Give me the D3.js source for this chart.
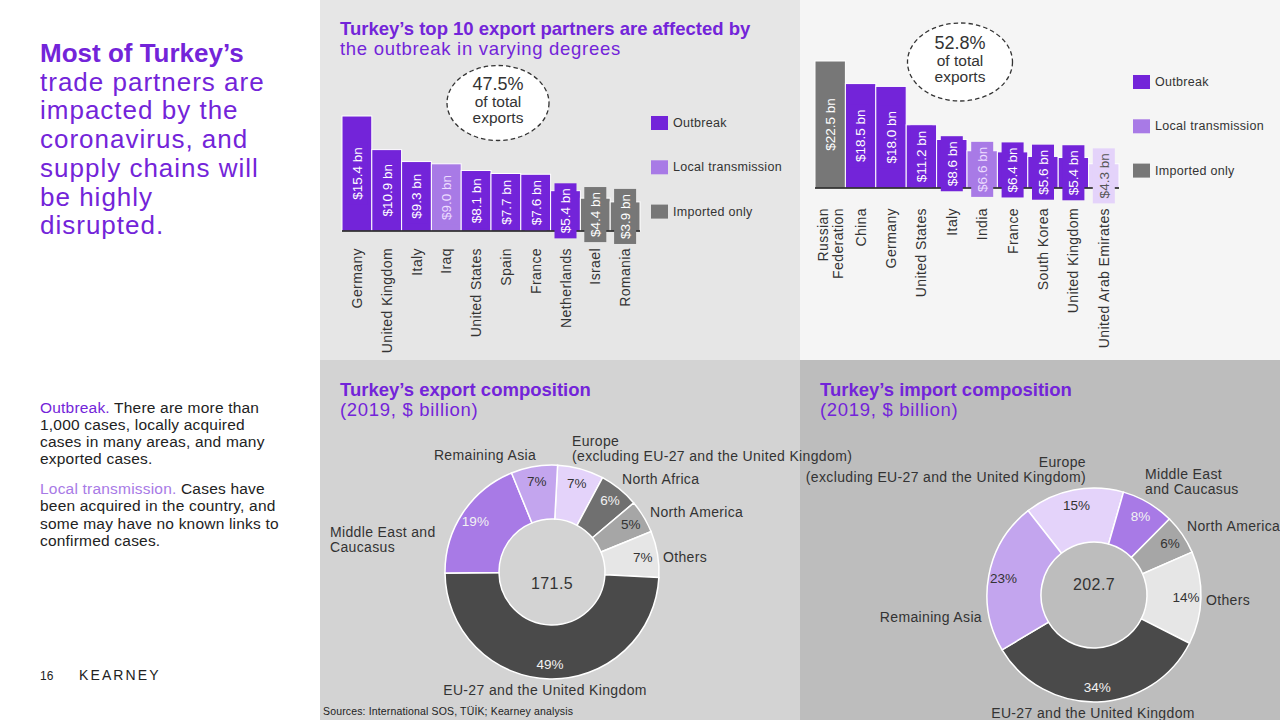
<!DOCTYPE html>
<html><head><meta charset="utf-8">
<script src="https://cdn.jsdelivr.net/npm/d3@7"></script>
<style>
html,body{margin:0;padding:0;background:#fff;}
svg{display:block;font-family:"Liberation Sans",Arial,Helvetica,sans-serif;}
</style></head>
<body><svg id="c" width="1280" height="720"></svg>
<script>
// ---------------- DATA ----------------
const legendItems = ["Outbreak", "Local transmission", "Imported only"];

const exportPartners = ["Germany","United Kingdom","Italy","Iraq","United States","Spain","France","Netherlands","Israel","Romania"];
const exportValues   = [15.4, 10.9, 9.3, 9.0, 8.1, 7.7, 7.6, 5.4, 4.4, 3.9];
const exportStatus   = ["Outbreak","Outbreak","Outbreak","Local transmission","Outbreak","Outbreak","Outbreak","Outbreak","Imported only","Imported only"];
const exportShareOfTotal = "47.5%";

const importPartners = ["Russian Federation","China","Germany","United States","Italy","India","France","South Korea","United Kingdom","United Arab Emirates"];
const importValues   = [22.5, 18.5, 18.0, 11.2, 8.6, 6.6, 6.4, 5.6, 5.4, 4.3];
const importStatus   = ["Imported only","Outbreak","Outbreak","Outbreak","Outbreak","Local transmission","Outbreak","Outbreak","Outbreak","Other"];
const importShareOfTotal = "52.8%";

const expRegions = ["Europe","North Africa","North America","Others","EU-27 and the United Kingdom","Middle East and Caucasus","Remaining Asia"];
const expShares  = [7, 6, 5, 7, 49, 19, 7];
const expTotal   = "171.5";

const impRegions = ["Europe","Middle East and Caucasus","North America","Others","EU-27 and the United Kingdom","Remaining Asia"];
const impShares  = [15, 8, 6, 14, 34, 23];
const impTotal   = "202.7";

// ---------------- STYLE ----------------
const PURPLE = "#7324d9", LAV = "#a87ae6", LAV2 = "#c3a5ee", LAV3 = "#e4d3fa";
const statusColor = d3.scaleOrdinal()
  .domain(["Outbreak","Local transmission","Imported only","Other"])
  .range([PURPLE, LAV, "#777777", LAV3]);
const statusText = d3.scaleOrdinal()
  .domain(["Outbreak","Local transmission","Imported only","Other"])
  .range(["#ffffff", "#ecdcff", "#ffffff", "#555555"]);
const regionColor = {
  "Europe": LAV3, "North Africa": "#707070", "North America": "#a6a6a6",
  "Others": "#e6e6e6", "EU-27 and the United Kingdom": "#4a4a4a",
  "Middle East and Caucasus": LAV, "Remaining Asia": LAV2
};
const TXT = "#333";

const svg = d3.select("#c");

// panels
svg.append("rect").attr("x",0).attr("y",0).attr("width",320).attr("height",720).attr("fill","#ffffff");
svg.append("rect").attr("x",320).attr("y",0).attr("width",480).attr("height",360).attr("fill","#e6e6e6");
svg.append("rect").attr("x",800).attr("y",0).attr("width",480).attr("height",360).attr("fill","#f5f5f5");
svg.append("rect").attr("x",320).attr("y",360).attr("width",480).attr("height",360).attr("fill","#d3d3d3");
svg.append("rect").attr("x",800).attr("y",360).attr("width",480).attr("height",360).attr("fill","#bdbdbd");

// ---------------- LEFT TEXT ----------------
const headline = ["trade partners are","impacted by the","coronavirus, and","supply chains will","be highly","disrupted."];
const hl = svg.append("text").attr("x",40).attr("y",62).attr("font-size",26).attr("fill",PURPLE);
hl.append("tspan").attr("x",40).attr("y",62).attr("font-weight","bold").text("Most of Turkey\u2019s");
headline.forEach((t,i)=>hl.append("tspan").attr("x",40).attr("y",62+28.7*(i+1)).attr("letter-spacing",1).text(t));

function para(y0, lead, leadColor, lines){
  const t = svg.append("text").attr("font-size",15.5).attr("letter-spacing",0.2).attr("fill","#222");
  lines.forEach((ln,i)=>{
    const ts = t.append("tspan").attr("x",40).attr("y",y0+17.3*i);
    if(i===0){ ts.append("tspan").attr("fill",leadColor).text(lead); ts.append("tspan").text(ln); }
    else ts.text(ln);
  });
}
para(412.5, "Outbreak.", PURPLE, [" There are more than","1,000 cases, locally acquired","cases in many areas, and many","exported cases."]);
para(494, "Local transmission.", LAV, [" Cases have","been acquired in the country, and","some may have no known links to","confirmed cases."]);
svg.append("text").attr("x",40).attr("y",680).attr("font-size",12).attr("fill","#222").text("16");
svg.append("text").attr("x",79).attr("y",680).attr("font-size",14).attr("letter-spacing",2.1).attr("fill","#222").text("KEARNEY");

// ---------------- BAR CHARTS ----------------
function barChart(o){
  const g = svg.append("g");
  const x = d3.scaleBand().domain(o.cats).range(o.xr).padding(0);
  const y = d3.scaleLinear().domain([0, d3.max(o.vals)]).range([o.base, o.top]);
  const data = o.cats.map((c,i)=>({c, v:o.vals[i], s:o.stat[i]}));
  g.selectAll("rect.bar").data(data).join("rect").attr("class","bar")
    .attr("x",d=>x(d.c)).attr("width",x.bandwidth())
    .attr("y",d=>y(d.v)).attr("height",d=>y(0)-y(d.v))
    .attr("fill",d=>statusColor(d.s)).attr("stroke","#fff").attr("stroke-width",1);
  g.append("line").attr("x1",o.xr[0]).attr("x2",o.xr[1]).attr("y1",y(0)).attr("y2",y(0))
    .attr("stroke","#111").attr("stroke-width",1.5);
  data.forEach(d=>{
    const cx = x(d.c)+x.bandwidth()/2, cy = (y(d.v)+y(0))/2;
    const lg = g.append("g").attr("transform",`translate(${cx},${cy}) rotate(-90)`);
    const box = lg.append("rect").attr("fill",statusColor(d.s));
    const t = lg.append("text").attr("text-anchor","middle").attr("dy","0.36em")
      .attr("font-size",13.5).attr("fill",statusText(d.s)).text("$"+d.v.toFixed(1)+" bn");
    const L = t.node().getComputedTextLength();
    box.attr("x",-L/2-5).attr("y",-11).attr("width",L+10).attr("height",22);
  });
  // category labels
  data.forEach(d=>{
    const cx = x(d.c)+x.bandwidth()/2;
    const parts = o.split && o.split[d.c] ? o.split[d.c] : [d.c];
    parts.forEach((p,k)=>{
      const dx = (k-(parts.length-1)/2)*15;
      g.append("text").attr("transform",`translate(${cx+dx},${o.labY}) rotate(-90)`)
        .attr("text-anchor","end").attr("dy","0.36em").attr("font-size",14).attr("letter-spacing",0.4)
        .attr("fill",TXT).text(p);
    });
  });
  // legend
  legendItems.forEach((l,i)=>{
    g.append("rect").attr("x",o.legX).attr("y",o.legY+i*44.3).attr("width",17).attr("height",14).attr("fill",statusColor(l));
    g.append("text").attr("x",o.legX+22).attr("y",o.legY+i*44.3+11).attr("font-size",12.5).attr("letter-spacing",0.3)
      .attr("fill",TXT).text(l);
  });
  // callout ellipse
  g.append("ellipse").attr("cx",o.ex).attr("cy",o.ey).attr("rx",o.erx).attr("ry",o.ery)
    .attr("fill","#fff").attr("stroke","#333").attr("stroke-width",1.3).attr("stroke-dasharray","4.5,3");
  g.append("text").attr("x",o.ex).attr("y",o.ey-13).attr("text-anchor","middle").attr("font-size",18).attr("fill",TXT).text(o.share);
  g.append("text").attr("x",o.ex).attr("y",o.ey+4).attr("text-anchor","middle").attr("font-size",15.5).attr("fill",TXT).text("of total");
  g.append("text").attr("x",o.ex).attr("y",o.ey+19.5).attr("text-anchor","middle").attr("font-size",15.5).attr("fill",TXT).text("exports");
}

// titles top
const t1 = svg.append("text").attr("font-size",18.5).attr("fill",PURPLE);
t1.append("tspan").attr("x",340).attr("y",35).attr("font-weight","bold").text("Turkey\u2019s top 10 export partners are affected by");
t1.append("tspan").attr("x",340).attr("y",54.5).attr("letter-spacing",0.7).text("the outbreak in varying degrees");

barChart({cats:exportPartners, vals:exportValues, stat:exportStatus, xr:[342,640], base:231, top:116,
  labY:248, legX:651, legY:116, ex:498, ey:103, erx:51, ery:37.5, share:exportShareOfTotal});
barChart({cats:importPartners, vals:importValues, stat:importStatus, xr:[815,1119], base:188, top:61,
  labY:208, legX:1133, legY:75, ex:960, ey:62, erx:52.5, ery:39, share:importShareOfTotal,
  split:{"Russian Federation":["Russian","Federation"]}});

// ---------------- DONUTS ----------------
function donut(o){
  const g = svg.append("g").attr("transform",`translate(${o.cx},${o.cy})`);
  const data = o.regions.map((r,i)=>({r, v:o.shares[i]}));
  const pie = d3.pie().value(d=>d.v).sort(null).startAngle(o.start).endAngle(o.start+2*Math.PI);
  const arcs = pie(data);
  const arc = d3.arc().innerRadius(53).outerRadius(107);
  const lab = d3.arc().innerRadius(92).outerRadius(92);
  g.selectAll("path").data(arcs).join("path").attr("d",arc)
    .attr("fill",d=>regionColor[d.data.r]).attr("stroke","#fff").attr("stroke-width",1.5);
  arcs.forEach(d=>{
    const c = lab.centroid(d);
    const dark = ["EU-27 and the United Kingdom","North Africa","Middle East and Caucasus"].includes(d.data.r);
    g.append("text").attr("x",c[0]).attr("y",c[1]).attr("dy","0.36em").attr("text-anchor","middle")
      .attr("font-size",13.5).attr("fill",dark ? "#f2f2f2" : TXT).text(d.data.v+"%");
  });
  g.append("text").attr("x",0).attr("y",o.totY).attr("dy","0.36em").attr("text-anchor","middle")
    .attr("font-size",16).attr("letter-spacing",0.4).attr("fill",TXT).text(o.total);
  o.labels.forEach(l=>{
    const t = g.append("text").attr("font-size",14).attr("letter-spacing",0.35).attr("fill",TXT).attr("text-anchor",l.a||"start");
    l.lines.forEach((ln,k)=>t.append("tspan").attr("x",l.x).attr("y",l.y+k*15).text(ln));
  });
}

const t2 = svg.append("text").attr("font-size",18.5).attr("fill",PURPLE);
t2.append("tspan").attr("x",340).attr("y",396).attr("font-weight","bold").text("Turkey\u2019s export composition");
t2.append("tspan").attr("x",340).attr("y",415.5).attr("letter-spacing",0.7).text("(2019, $ billion)");
const t3 = svg.append("text").attr("font-size",18.5).attr("fill",PURPLE);
t3.append("tspan").attr("x",820).attr("y",396).attr("font-weight","bold").text("Turkey\u2019s import composition");
t3.append("tspan").attr("x",820).attr("y",415.5).attr("letter-spacing",0.7).text("(2019, $ billion)");

donut({cx:552, cy:572, regions:expRegions, shares:expShares, start:3*Math.PI/180, total:expTotal, totY:11,
  labels:[
    {x:-67, y:-112, a:"middle", lines:["Remaining Asia"]},
    {x:20, y:-126, lines:["Europe","(excluding EU-27 and the United Kingdom)"]},
    {x:70, y:-88, lines:["North Africa"]},
    {x:98, y:-55, lines:["North America"]},
    {x:111, y:-10, lines:["Others"]},
    {x:-222, y:-35, lines:["Middle East and","Caucasus"]},
    {x:-7, y:123, a:"middle", lines:["EU-27 and the United Kingdom"]}
  ]});
donut({cx:1094, cy:595, regions:impRegions, shares:impShares, start:-38*Math.PI/180, total:impTotal, totY:-11,
  labels:[
    {x:-8, y:-128, a:"end", lines:["Europe","(excluding EU-27 and the United Kingdom)"]},
    {x:51, y:-116, lines:["Middle East","and Caucasus"]},
    {x:93, y:-64, lines:["North America"]},
    {x:112, y:10, lines:["Others"]},
    {x:-112, y:27, a:"end", lines:["Remaining Asia"]},
    {x:-1, y:122.5, a:"middle", lines:["EU-27 and the United Kingdom"]}
  ]});

svg.append("text").attr("x",323).attr("y",714.5).attr("font-size",10.5).attr("letter-spacing",0.15).attr("fill","#222")
  .text("Sources: International SOS, T\u00DC\u0130K; Kearney analysis");
</script></body></html>
